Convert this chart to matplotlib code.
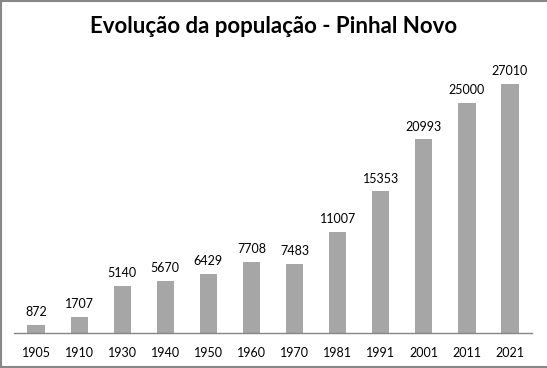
import matplotlib
matplotlib.use("Agg")
import matplotlib.pyplot as plt
from matplotlib.lines import Line2D

years = ["1905", "1910", "1930", "1940", "1950", "1960", "1970", "1981", "1991", "2001", "2011", "2021"]
population = [872, 1707, 5140, 5670, 6429, 7708, 7483, 11007, 15353, 20993, 25000, 27010]

plt.rcParams['font.family'] = ['Lato', 'DejaVu Sans']

fig = plt.figure(figsize=(5.47, 3.68), dpi=100)
ax = fig.add_axes([0.0265, 0.0951, 0.9452, 0.7516])

x = list(range(len(years)))
bars = ax.bar(x, population, width=0.4, color='#a6a6a6', zorder=2)
for xi, v in zip(x, population):
    ax.annotate(str(v), (xi, v), xytext=(0, 5), textcoords='offset points',
                ha='center', va='bottom', fontsize=9, color='#000000')

ax.set_xlim(-0.5, len(years) - 0.5)
ax.set_ylim(0, 30000)
ax.set_xticks(x)
ax.set_xticklabels(years, fontsize=9)
ax.tick_params(axis='x', length=0, pad=10)
ax.set_yticks([])
for s in ['top', 'right', 'left']:
    ax.spines[s].set_visible(False)
ax.spines['bottom'].set_color('#868686')
ax.spines['bottom'].set_linewidth(1)

fig.text(0.5, 0.928, "Evolução da população - Pinhal Novo", ha='center', va='center',
         fontsize=16, fontweight='bold', color='#000000')

border = dict(transform=fig.transFigure, color='#888888', linewidth=1.5)
fig.lines.append(Line2D([0.001, 0.001], [0.0, 1.0], **border))
fig.lines.append(Line2D([0.0, 1.0], [0.998, 0.998], **border))
fig.lines.append(Line2D([0.0, 1.0], [0.002, 0.002], **border))

fig.savefig("out.png", dpi=100)
